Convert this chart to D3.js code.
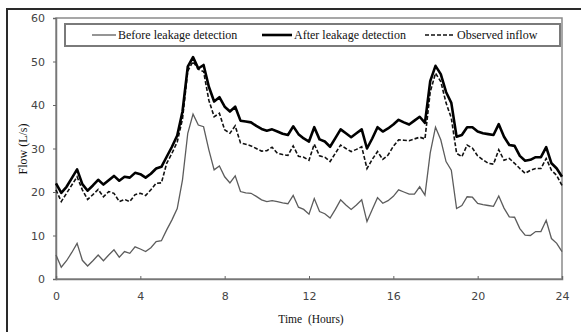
<!doctype html>
<html lang="en">
<head>
<meta charset="UTF-8">
<script src="https://cdnjs.cloudflare.com/ajax/libs/d3/7.8.5/d3.min.js"></script>
<title>Flow</title>
<style>
  body { margin: 0; background: #fff; }
  svg { display: block; }
</style>
</head>
<body>
<div id="viz_area"></div>
<script>
// time in hours, 15 minute steps
const hours = d3.range(0, 97).map(i => i / 4);

const beforeFlow = [
  5.5, 2.7, 4.2, 6.1, 8.2, 4.3, 3.0, 4.2, 5.5, 4.2, 5.5, 6.7, 5.0, 6.3, 5.9, 7.4,
  6.9, 6.3, 7.2, 8.6, 8.8, 11.3, 13.6, 16.2, 22.8, 33.5, 37.9, 35.4, 35.0, 29.7, 25.1, 26.0,
  23.5, 22.1, 23.7, 20.1, 19.8, 19.7, 19.0, 18.2, 17.8, 18.0, 17.8, 17.5, 17.3, 19.2, 16.5, 16.0,
  14.9, 18.5, 15.5, 15.0, 14.0, 16.0, 18.2, 17.0, 16.0, 17.0, 18.2, 13.2, 16.0, 18.7, 17.4, 18.0,
  19.0, 20.5, 20.0, 19.5, 19.5, 21.2, 19.3, 29.0, 34.9, 32.0, 27.0, 25.0, 16.2, 16.9, 18.9, 18.8,
  17.4, 17.1, 16.9, 16.7, 19.1, 16.3, 14.3, 14.2, 11.6, 10.1, 10.0, 10.9, 10.9, 13.5, 9.3, 8.2,
  6.3
];

const afterFlow = [
  22.0, 19.8, 21.2, 23.2, 25.2, 21.8, 20.3, 21.5, 22.8, 21.7, 22.7, 23.7, 22.6, 23.5, 23.3, 24.4,
  24.1, 23.3, 24.2, 25.4, 25.8, 28.1, 30.4, 33.0, 38.5, 48.8, 51.0, 48.4, 49.2, 44.2, 40.8, 41.8,
  39.6, 38.5, 39.6, 36.4, 36.2, 36.0, 35.2, 34.5, 34.1, 34.4, 33.9, 33.4, 33.1, 35.1, 33.3, 32.3,
  31.6, 34.9, 32.1, 31.6, 30.4, 32.4, 34.4, 33.5, 32.6, 33.5, 34.4, 30.0, 32.3, 34.9, 33.9, 34.6,
  35.5, 36.6, 36.0, 35.5, 36.4, 37.3, 35.9, 45.5, 49.0, 47.1, 43.0, 40.5, 32.7, 33.1, 34.9, 34.9,
  33.9, 33.5, 33.3, 33.1, 35.6, 32.7, 30.8, 30.6, 28.3, 27.2, 27.4, 28.0, 28.0, 30.3, 26.6, 25.4,
  23.5
];

const observedInflow = [
  20.5, 17.8, 19.7, 21.6, 23.5, 20.5, 18.3, 19.4, 20.6, 18.9, 20.1, 19.7, 17.8, 18.3, 17.8, 19.4,
  19.7, 19.2, 20.5, 22.0, 22.1, 26.6, 28.9, 31.5, 36.8, 47.8, 50.0, 48.2, 47.7, 41.1, 37.3, 38.1,
  34.3, 33.5, 35.2, 31.3, 31.0, 30.6, 30.0, 29.4, 29.5, 30.3, 28.9, 28.6, 28.4, 30.6, 28.2, 28.0,
  27.3, 31.0, 28.3, 28.0, 27.0, 28.9, 30.8, 30.0, 29.3, 29.8, 30.4, 25.4, 27.5, 29.3, 27.5, 28.5,
  30.5, 32.0, 31.9, 31.8, 32.2, 32.6, 32.2, 43.0, 47.3, 45.4, 40.5, 37.0, 28.9, 28.1, 30.8, 30.1,
  28.3, 27.4, 26.6, 26.4, 29.7, 27.3, 27.7, 26.6, 25.4, 24.3, 25.0, 25.4, 25.4, 27.7, 25.0, 23.8,
  21.5
];

const xTicks = [0, 4, 8, 12, 16, 20, 24];
const yTicks = [0, 10, 20, 30, 40, 50, 60];
const seriesNames = ["Before leakage detection", "After leakage detection", "Observed inflow"];

const W = 581, H = 332;
const margin = {top: 18, right: 19, bottom: 53, left: 56};

const svg = d3.select("#viz_area").append("svg")
    .attr("width", W)
    .attr("height", H);

// outer frame (only top and left edges visible in the original crop)
svg.append("path")
    .attr("d", `M7,${H} L7,9 L${W},9`)
    .attr("fill", "none")
    .attr("stroke", "#2a2a2a")
    .attr("stroke-width", 2);

const x = d3.scaleLinear().domain([0, 24]).range([margin.left, W - margin.right]);
const y = d3.scaleLinear().domain([0, 60]).range([H - margin.bottom, margin.top]);

// plot frame
svg.append("rect")
    .attr("x", x(0)).attr("y", y(60))
    .attr("width", x(24) - x(0)).attr("height", y(0) - y(60))
    .attr("fill", "none")
    .attr("stroke", "#8a8a8a")
    .attr("stroke-width", 1.5);

const yAxis = svg.append("g")
    .attr("transform", `translate(${x(0)},0)`)
    .call(d3.axisLeft(y).tickValues(yTicks).tickSize(3).tickPadding(8));

const xAxis = svg.append("g")
    .attr("transform", `translate(0,${y(0)})`)
    .call(d3.axisBottom(x).tickValues(xTicks).tickSize(-3).tickPadding(13));

[xAxis, yAxis].forEach(a => {
    a.select(".domain").attr("stroke", "#777").attr("stroke-width", 1.5);
    a.selectAll(".tick line").attr("stroke", "#666");
    a.selectAll(".tick text")
        .attr("fill", "#444")
        .style("font-family", "'DejaVu Sans', sans-serif")
        .style("font-size", "11px");
});

const line = vals => d3.line()
    .x((d, i) => x(hours[i]))
    .y(d => y(d))(vals);

svg.append("path")
    .attr("d", line(beforeFlow))
    .attr("fill", "none")
    .attr("stroke", "#5c5c5c")
    .attr("stroke-width", 1.3);

svg.append("path")
    .attr("d", line(observedInflow))
    .attr("fill", "none")
    .attr("stroke", "#111")
    .attr("stroke-width", 1.6)
    .attr("stroke-dasharray", "4,2");

svg.append("path")
    .attr("d", line(afterFlow))
    .attr("fill", "none")
    .attr("stroke", "#000")
    .attr("stroke-width", 2.6)
    .attr("stroke-linejoin", "round");

// legend
const legend = svg.append("g");
legend.append("rect")
    .attr("x", 65).attr("y", 24)
    .attr("width", 495).attr("height", 22)
    .attr("fill", "#fff")
    .attr("stroke", "#7a7a7a")
    .attr("stroke-width", 2);

const legendItems = [
    {name: seriesNames[0], x0: 92, x1: 116, stroke: "#5c5c5c", width: 1.3, dash: null},
    {name: seriesNames[1], x0: 262, x1: 292, stroke: "#000", width: 2.6, dash: null},
    {name: seriesNames[2], x0: 425, x1: 455, stroke: "#111", width: 1.6, dash: "4,2"}
];

legendItems.forEach(d => {
    legend.append("line")
        .attr("x1", d.x0).attr("x2", d.x1)
        .attr("y1", 35).attr("y2", 35)
        .attr("stroke", d.stroke)
        .attr("stroke-width", d.width)
        .attr("stroke-dasharray", d.dash);
    legend.append("text")
        .attr("x", d.x1 + 2).attr("y", 39)
        .style("font-family", "'Liberation Serif', serif")
        .style("font-size", "12px")
        .attr("fill", "#111")
        .text(d.name);
});

// axis titles
svg.append("text")
    .attr("x", 311).attr("y", 323)
    .attr("text-anchor", "middle")
    .attr("xml:space", "preserve")
    .style("white-space", "pre")
    .style("font-family", "'Liberation Serif', serif")
    .style("font-size", "11.5px")
    .attr("fill", "#111")
    .text("Time  (Hours)");

svg.append("text")
    .attr("transform", "translate(27,149) rotate(-90)")
    .attr("text-anchor", "middle")
    .style("font-family", "'Liberation Serif', serif")
    .style("font-size", "12px")
    .attr("fill", "#111")
    .text("Flow (L/s)");
</script>
</body>
</html>
